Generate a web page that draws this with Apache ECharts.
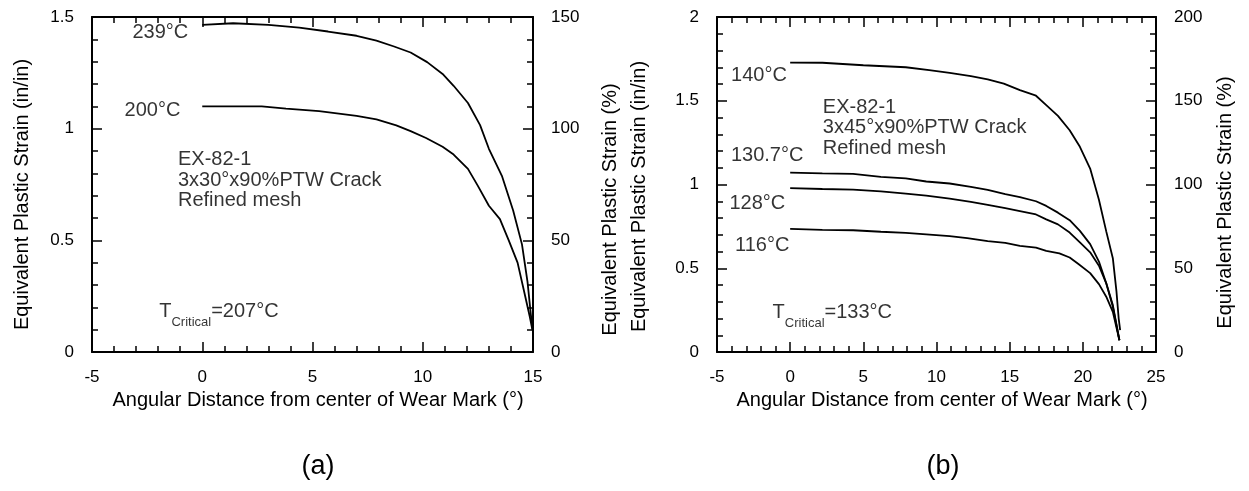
<!DOCTYPE html>
<html>
<head>
<meta charset="utf-8">
<title>Equivalent Plastic Strain vs Angular Distance</title>
<script src="https://cdn.jsdelivr.net/npm/echarts@6/dist/echarts.min.js"></script>
<style>
  html, body { margin: 0; padding: 0; background: #fff; }
  #chart { width: 1249px; height: 491px; }
</style>
</head>
<body>
<div id="chart"></div>
<script>
// Panel (a): 3x30°x90%PTW crack, [angle (deg), strain (in/in)]
const curveA239 = [[0,1.465],[1.4,1.472],[3.0,1.465],[4.4,1.452],[5.7,1.435],[7.0,1.416],[7.9,1.394],[8.7,1.368],[9.45,1.341],[10.2,1.298],[10.9,1.245],[11.4,1.192],[12.05,1.115],[12.6,1.016],[13.0,0.91],[13.6,0.786],[14.1,0.634],[14.5,0.482],[14.75,0.315],[14.9,0.17],[15.0,0.09]];
const curveA200 = [[0,1.1],[1.4,1.1],[2.7,1.1],[3.8,1.09],[5.3,1.079],[7.0,1.057],[7.9,1.042],[8.8,1.015],[9.45,0.989],[10.15,0.958],[10.9,0.919],[11.4,0.884],[12.05,0.82],[12.5,0.744],[13.0,0.655],[13.5,0.595],[13.9,0.5],[14.3,0.4],[14.6,0.27],[14.85,0.16],[14.97,0.1]];

// Panel (b): 3x45°x90%PTW crack
const curveB140 = [[0,1.728],[2.2,1.727],[5.0,1.712],[7.9,1.700],[9.5,1.683],[10.9,1.667],[12.35,1.647],[13.5,1.627],[14.6,1.602],[15.7,1.563],[16.8,1.530],[17.5,1.474],[18.3,1.41],[19.1,1.324],[19.8,1.225],[20.5,1.095],[21.1,0.909],[21.6,0.72],[22.05,0.56],[22.3,0.36],[22.45,0.2],[22.55,0.13]];
const curveB1307 = [[0,1.071],[2.2,1.066],[4.3,1.063],[6.2,1.045],[7.9,1.036],[9.3,1.018],[10.9,1.006],[12.35,0.986],[13.5,0.968],[14.7,0.943],[15.7,0.925],[16.8,0.9],[17.5,0.872],[18.3,0.832],[19.1,0.787],[19.8,0.723],[20.5,0.644],[21.1,0.54],[21.6,0.41],[22.05,0.28],[22.5,0.07]];
const curveB128 = [[0,0.978],[2.2,0.973],[4.3,0.970],[6.2,0.959],[7.9,0.946],[9.3,0.934],[10.9,0.916],[12.35,0.896],[13.5,0.879],[14.7,0.859],[15.7,0.841],[16.8,0.821],[17.5,0.792],[18.3,0.762],[19.1,0.713],[19.8,0.654],[20.5,0.595],[21.1,0.515],[21.6,0.41],[22.05,0.27],[22.5,0.07]];
const curveB116 = [[0,0.735],[2.2,0.729],[4.3,0.727],[6.2,0.718],[7.9,0.711],[9.3,0.702],[10.9,0.692],[12.1,0.68],[13.5,0.662],[14.7,0.652],[15.7,0.634],[16.8,0.623],[17.5,0.604],[18.4,0.589],[19.1,0.564],[19.7,0.525],[20.5,0.471],[21.1,0.405],[21.6,0.33],[22.05,0.24],[22.5,0.07]];

// Axis ranges [min, max, interval]
const xRangeA = [-5, 15, 5];
const xRangeB = [-5, 25, 5];
const yRangeA = [0, 1.5, 0.5];
const yRangeB = [0, 2, 0.5];
const yPctRangeA = [0, 150, 50];
const yPctRangeB = [0, 200, 50];

const xTitle = 'Angular Distance from center of Wear Mark (°)';
const yTitleInIn = 'Equivalent Plastic Strain (in/in)';
const yTitlePct = 'Equivalent Plastic Strain (%)';

const FONT = '"Liberation Sans", Arial, Helvetica, sans-serif';
const INK = '#000';
const TICK_FONT = 17;

function axisBase(range, extra) {
  return Object.assign({
    type: 'value',
    min: range[0], max: range[1], interval: range[2],
    axisLine: { show: true, onZero: false, lineStyle: { color: INK, width: 2 } },
    axisTick: { show: true, inside: true, length: 10, lineStyle: { color: INK, width: 1.5 } },
    minorTick: { show: true, splitNumber: 5, length: 6, lineStyle: { color: INK, width: 1.5 } },
    splitLine: { show: false },
    minorSplitLine: { show: false },
    axisLabel: { color: INK, fontSize: TICK_FONT, fontFamily: FONT, margin: 18 },
    nameTextStyle: { color: INK, fontSize: 20, fontFamily: FONT },
    nameLocation: 'middle'
  }, extra);
}

function xBottom(range, grid) {
  return axisBase(range, {
    gridIndex: grid, position: 'bottom',
    name: xTitle, nameGap: 38,
    axisLabel: { color: INK, fontSize: TICK_FONT, fontFamily: FONT, margin: 17 },
    nameTextStyle: { color: INK, fontSize: 20, fontFamily: FONT, padding: [0, 0, 0, 11] }
  });
}
function xTop(range, grid) {
  return axisBase(range, { gridIndex: grid, position: 'top', axisLabel: { show: false } });
}
function yAxisSide(range, grid, side, name, gap, shiftDown) {
  return axisBase(range, {
    gridIndex: grid, position: side,
    name: name, nameRotate: 90, nameGap: gap,
    nameTextStyle: { color: INK, fontSize: 20, fontFamily: FONT, padding: [0, 2 * shiftDown, 0, 0] }
  });
}

function curve(data, xi, yi) {
  return {
    type: 'line', data: data, xAxisIndex: xi, yAxisIndex: yi,
    symbol: 'none', smooth: false, silent: true,
    lineStyle: { color: INK, width: 1.8 }
  };
}

const textLabel = { color: INK, fontSize: 20, fontFamily: FONT };

function note(x, y, text, align) {
  return {
    value: [x, y],
    label: Object.assign({
      show: true, formatter: text,
      position: align === 'left' ? 'right' : 'inside',
      distance: 0, lineHeight: 20.5
    }, textLabel)
  };
}
function tCritical(x, y, temp) {
  return {
    value: [x, y],
    label: {
      show: true, position: 'right', distance: 0,
      formatter: '{m|T}{s|Critical}{m|=' + temp + '}',
      rich: {
        m: { color: INK, fontSize: 20, fontFamily: FONT },
        s: { color: INK, fontSize: 13, fontFamily: FONT, lineHeight: 14, padding: [22, 0, 0, 0] }
      }
    }
  };
}
function notes(items, xi, yi) {
  return {
    type: 'scatter', xAxisIndex: xi, yAxisIndex: yi,
    symbol: 'circle', symbolSize: 0, silent: true,
    itemStyle: { color: 'transparent' },
    data: items
  };
}

const chart = echarts.init(document.getElementById('chart'), null, { renderer: 'canvas' });
chart.setOption({
  animation: false,
  backgroundColor: '#fff',
  textStyle: { fontFamily: FONT },
  grid: [
    { left: 92, right: 716, top: 17, bottom: 139 },
    { left: 717, right: 93, top: 17, bottom: 139 }
  ],
  xAxis: [
    xBottom(xRangeA, 0),
    xTop(xRangeA, 0),
    xBottom(xRangeB, 1),
    xTop(xRangeB, 1)
  ],
  yAxis: [
    yAxisSide(yRangeA, 0, 'left', yTitleInIn, 60, 10),
    yAxisSide(yPctRangeA, 0, 'right', yTitlePct, 67, 25),
    yAxisSide(yRangeB, 1, 'left', yTitleInIn, 68, 12),
    yAxisSide(yPctRangeB, 1, 'right', yTitlePct, 59, 18)
  ],
  series: [
    curve(curveA239, 0, 0),
    curve(curveA200, 0, 0),
    curve(curveB140, 2, 2),
    curve(curveB1307, 2, 2),
    curve(curveB128, 2, 2),
    curve(curveB116, 2, 2),
    notes([
      note(-1.9, 1.43, '239°C'),
      note(-2.26, 1.08, '200°C'),
      note(-1.1, 0.77, 'EX-82-1\n3x30°x90%PTW Crack\nRefined mesh', 'left'),
      tCritical(-1.95, 0.18, '207°C')
    ], 0, 0),
    notes([
      note(-2.13, 1.65, '140°C'),
      note(-1.57, 1.172, '130.7°C'),
      note(-2.24, 0.885, '128°C'),
      note(-1.91, 0.638, '116°C'),
      note(2.23, 1.338, 'EX-82-1\n3x45°x90%PTW Crack\nRefined mesh', 'left'),
      tCritical(-1.2, 0.237, '133°C')
    ], 2, 2)
  ],
  graphic: [
    { type: 'text', x: 318, y: 467, style: { text: '(a)', fill: INK, fontSize: 27, fontFamily: FONT, align: 'center', verticalAlign: 'middle' } },
    { type: 'text', x: 943, y: 467, style: { text: '(b)', fill: INK, fontSize: 27, fontFamily: FONT, align: 'center', verticalAlign: 'middle' } }
  ]
});
</script>
</body>
</html>
